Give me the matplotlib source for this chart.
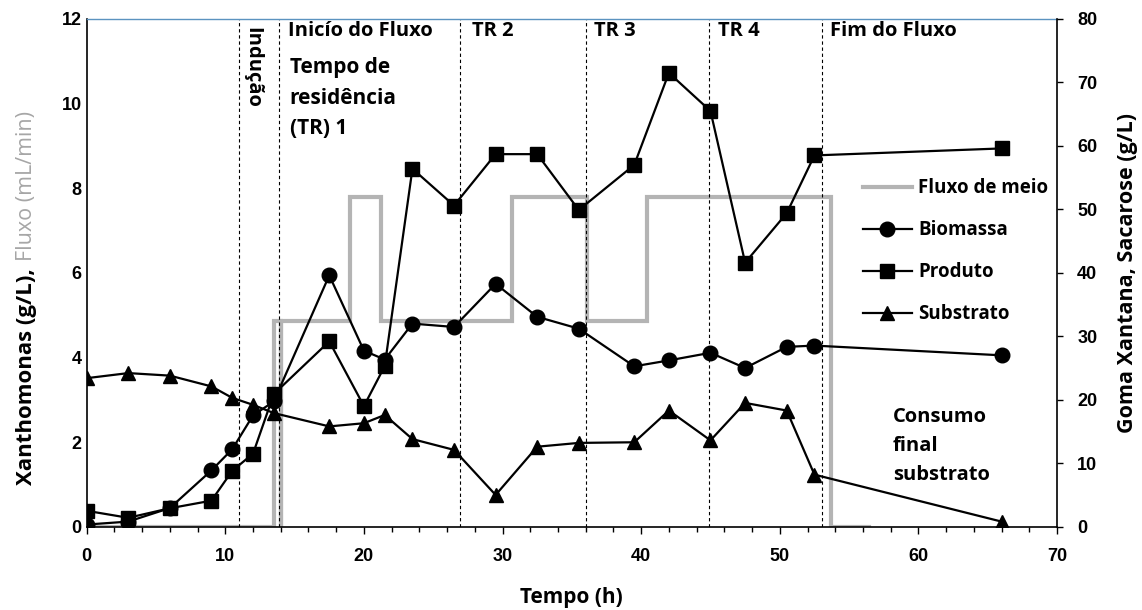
import matplotlib
matplotlib.use('Agg')
import matplotlib.pyplot as plt
from matplotlib.lines import Line2D
from matplotlib.ticker import MultipleLocator

plt.rcParams['font.family'] = ['Liberation Sans', 'DejaVu Sans']
plt.rcParams['font.weight'] = 'bold'
txt = ['Open Sans', 'DejaVu Sans']

# tempo de amostragem (h)
tempo = [0, 3, 6, 9, 10.5, 12, 13.5, 17.5, 20, 21.5, 23.5, 26.5, 29.5, 32.5,
         35.5, 39.5, 42, 45, 47.5, 50.5, 52.5, 66]
# Xanthomonas (g/L) - eixo esquerdo
biomassa = [0.05, 0.12, 0.44, 1.33, 1.83, 2.63, 2.96, 5.94, 4.16, 3.95, 4.80,
            4.72, 5.74, 4.96, 4.68, 3.79, 3.93, 4.11, 3.75, 4.25, 4.28, 4.05]
# goma xantana (g/L) - eixo direito
produto = [2.5, 1.4, 2.9, 4.1, 8.8, 11.5, 20.9, 29.2, 19.0, 25.3, 56.4, 50.6,
           58.7, 58.7, 49.9, 57.0, 71.5, 65.5, 41.6, 49.4, 58.5, 59.6]
# sacarose (g/L) - eixo direito
substrato = [23.4, 24.2, 23.8, 22.1, 20.3, 19.2, 17.9, 15.8, 16.3, 17.6, 13.8,
             12.1, 5.0, 12.6, 13.2, 13.3, 18.3, 13.6, 19.5, 18.3, 8.2, 0.8]

# fluxo de meio (mL/min)
fluxo_t = [0, 13.5, 13.5, 14.0, 14.0, 14.0, 19.0, 19.0, 21.2, 21.2, 30.7, 30.7,
           36.1, 36.1, 40.4, 40.4, 53.7, 53.7, 56.4]
fluxo_v = [0, 0, 4.86, 4.86, 0, 4.86, 4.86, 7.8, 7.8, 4.86, 4.86, 7.8,
           7.8, 4.86, 4.86, 7.8, 7.8, 0, 0]

# fases
fases_t = [11, 13.9, 26.95, 36.0, 44.9, 53.05]

cinza = '#b4b4b4'

fig = plt.figure(figsize=(11.42, 6.10), dpi=100)
ax = fig.add_axes([0.0759, 0.1366, 0.8497, 0.8323])
ax2 = ax.twinx()

ax.plot(fluxo_t, fluxo_v, color=cinza, lw=3, solid_joinstyle='miter', zorder=1)
for t in fases_t:
    ax.axvline(t, color='black', lw=0.8, ls=(0, (3, 2.5)), zorder=2)
ax.plot(tempo, biomassa, color='black', lw=1.6, marker='o', ms=10.5, zorder=3)
ax2.plot(tempo, produto, color='black', lw=1.6, marker='s', ms=10.5, zorder=3)
ax2.plot(tempo, substrato, color='black', lw=1.6, marker='^', ms=10.5, zorder=3)

ax.set_xlim(0, 70)
ax.set_ylim(0, 12)
ax2.set_ylim(0, 80)
ax.xaxis.set_major_locator(MultipleLocator(10))
ax.xaxis.set_minor_locator(MultipleLocator(2))
ax.yaxis.set_major_locator(MultipleLocator(2))
ax2.yaxis.set_major_locator(MultipleLocator(10))

ax.tick_params(axis='x', which='major', direction='out', length=5, width=1,
               pad=10, labelsize=13)
ax.tick_params(axis='x', which='minor', direction='out', length=3.5, width=1)
ax.tick_params(axis='y', length=0, pad=3.5, labelsize=13)
ax2.tick_params(axis='y', direction='out', length=4.5, width=1, pad=10,
                labelsize=13)

for s in ['left', 'bottom']:
    ax.spines[s].set_linewidth(1.2)
ax.spines['right'].set_visible(False)
ax.spines['top'].set_color('#5b93c0')
ax.spines['top'].set_linewidth(1)
for s in ['left', 'bottom', 'top']:
    ax2.spines[s].set_visible(False)
ax2.spines['right'].set_linewidth(1.2)

# textos das fases
fs = 14.5
ax.text(11.98, 11.81, 'Indução', rotation=270, ha='center', va='top',
        fontsize=fs, family=txt)
ax.text(14.5, 11.71, 'Inicío do Fluxo', ha='left', va='center', fontsize=fs,
        family=txt)
ax.text(14.65, 11.1, 'Tempo de\nresidência\n(TR) 1', ha='left', va='top',
        fontsize=15, linespacing=1.6, family=txt)
ax.text(27.78, 11.71, 'TR 2', ha='left', va='center', fontsize=fs, family=txt)
ax.text(36.6, 11.71, 'TR 3', ha='left', va='center', fontsize=fs, family=txt)
ax.text(45.57, 11.71, 'TR 4', ha='left', va='center', fontsize=fs, family=txt)
ax.text(53.63, 11.71, 'Fim do Fluxo', ha='left', va='center', fontsize=fs,
        family=txt)
ax.text(58.15, 2.84, 'Consumo\nfinal\nsubstrato', ha='left', va='top',
        fontsize=fs, linespacing=1.6, family=txt)

handles = [
    Line2D([], [], color=cinza, lw=3),
    Line2D([], [], color='black', lw=1.6, marker='o', ms=10.5),
    Line2D([], [], color='black', lw=1.6, marker='s', ms=10.5),
    Line2D([], [], color='black', lw=1.6, marker='^', ms=10.5),
]
labels = ['Fluxo de meio', 'Biomassa', 'Produto', 'Substrato']
ax2.legend(handles, labels, loc='upper left', bbox_to_anchor=(0.800, 0.686),
           frameon=False, borderpad=0, borderaxespad=0, handlelength=2.6,
           handletextpad=0.35, labelspacing=1.17,
           prop={'family': txt, 'weight': 'bold', 'size': 13.5})

fig.text(571 / 1142, 1 - 597 / 610, 'Tempo (h)', ha='center', va='center',
         fontsize=15, family=txt)
fig.text(1127 / 1142, 1 - 273 / 610, 'Goma Xantana, Sacarose (g/L)',
         rotation=90, ha='center', va='center', fontsize=15.5, family=txt)

# rótulo esquerdo em duas cores
renderer = fig.canvas.get_renderer()
t1 = fig.text(27 / 1142, 1 - 485 / 610, 'Xanthomonas (g/L),', rotation=90,
              ha='center', va='bottom', fontsize=16, color='black', family=txt)
bb = t1.get_window_extent(renderer)
fig.text(27 / 1142, (bb.y1 + 7) / fig.bbox.height, 'Fluxo (mL/min)',
         rotation=90, ha='center', va='bottom', fontsize=15.5, color='#a6a6a6',
         family=txt, fontweight='normal')

fig.savefig('out.png', dpi=100)
